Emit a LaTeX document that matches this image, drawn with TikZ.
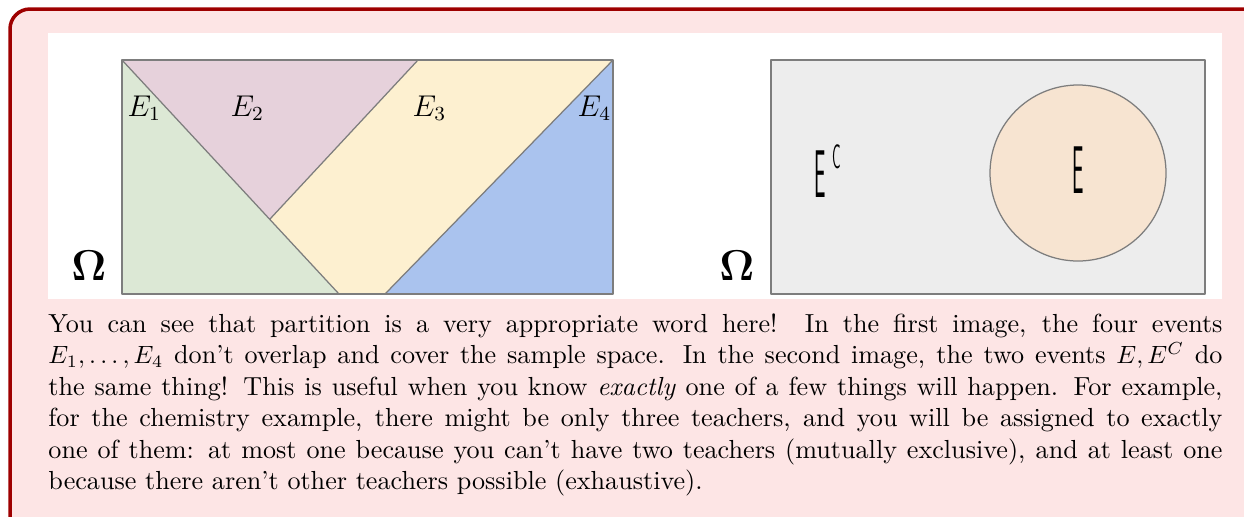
\documentclass[tikz,border=0pt]{standalone}
\usepackage{amsmath,amssymb,graphicx}
\usetikzlibrary{arrows.meta}
\definecolor{boxR}{RGB}{158,0,0}
\definecolor{boxP}{RGB}{253,229,229}
\definecolor{evG}{RGB}{220,232,213}
\definecolor{evP}{RGB}{230,209,219}
\definecolor{evY}{RGB}{253,240,208}
\definecolor{evB}{RGB}{170,195,238}
\definecolor{evC}{RGB}{247,228,209}
\definecolor{omG}{RGB}{237,237,237}
\definecolor{edgeG}{RGB}{125,125,125}
\newcommand{\handE}[3][27]{\scalebox{#2}[1]{\fontsize{#1}{#1}\selectfont\sffamily #3}}

\begin{document}
\begin{tikzpicture}[x=0.4pt,y=-0.4pt,part/.style={draw=edgeG,line width=0.5pt,line join=round},
  evlbl/.style={anchor=west,inner sep=0pt,font=\large}]
\useasboundingbox (0,0) rectangle (1244,516);
\draw[boxR,line width=1.4pt,fill=boxP,rounded corners=8pt] (10,9) rectangle (1300,560);
\fill[white] (48,33) rectangle (1222,299);
\fill[evG] (122,60) -- (339,294) -- (122,294) -- cycle;
\fill[evP] (122,60) -- (418,60) -- (270,219) -- cycle;
\fill[evY] (418,60) -- (613,60) -- (385,294) -- (339,294) -- (270,219) -- cycle;
\fill[evB] (613,60) -- (613,294) -- (385,294) -- cycle;
\draw[part] (122,60) -- (339,294) (270,219) -- (418,60) (613,60) -- (385,294);
\draw[part] (122,60) rectangle (613,294);
\node[evlbl] (e1) at (127,108) {$E_1$};
\node[evlbl] (e2) at (230,108) {$E_2$};
\node[evlbl] (e3) at (412,108) {$E_3$};
\node[evlbl] (e4) at (577,108) {$E_4$};
\node (om1) at (89,266) {\LARGE $\boldsymbol{\Omega}$};
\draw[part,fill=omG] (771,60) rectangle (1205,294);
\draw[part,fill=evC] (1078,173) circle[radius=35.2pt];
\node[anchor=base west,inner sep=0pt] (ec) at (814,197) {\handE{0.3}{E}\hspace{2.5pt}\raisebox{11.6pt}{\handE[13.5]{0.4}{C}}};
\node[anchor=base,inner sep=0pt] (ev) at (1078,193) {\handE{0.3}{E}};
\node (om2) at (737,266) {\LARGE $\boldsymbol{\Omega}$};
\node[anchor=north west,inner sep=0pt,text width=469.6pt,align=justify,font=\fontsize{10.45}{12.6}\selectfont] (txt) at (48,313)
{\noindent You can see that partition is a very appropriate word here! In the first image, the four events\linebreak
$E_1,\ldots,E_4$ don't overlap and cover the sample space. In the second image, the two events $E,E^C$ do\linebreak
the same thing! This is useful when you know \textit{exactly} one of a few things will happen. For example,\linebreak
for the chemistry example, there might be only three teachers, and you will be assigned to exactly\linebreak
one of them: at most one because you can't have two teachers (mutually exclusive), and at least one\linebreak
because there aren't other teachers possible (exhaustive).};
\end{tikzpicture}
\end{document}
